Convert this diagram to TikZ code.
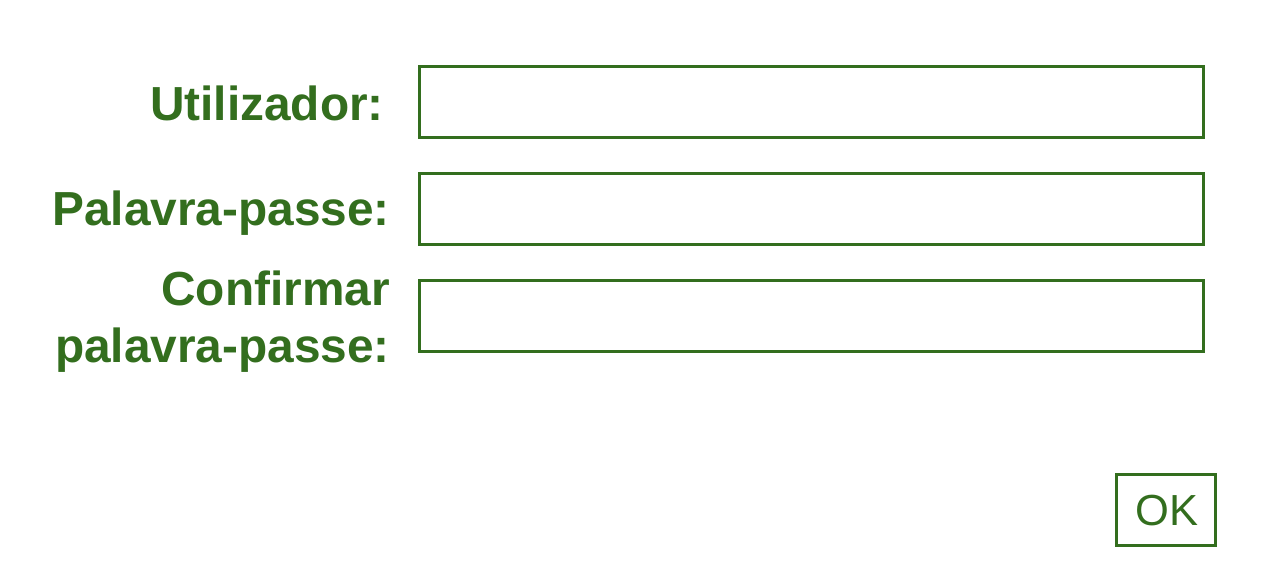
\documentclass[tikz,border=0pt]{standalone}
\usepackage{fontspec}
\setmainfont{Liberation Sans}
\usepackage{tikz}
\definecolor{formgreen}{RGB}{51,110,30}
\tikzset{
  field/.style={draw=formgreen, line width=3pt},
  lbl/.style={anchor=base east, inner sep=0pt, text=formgreen, font=\fontsize{47.8}{57}\selectfont\bfseries},
}

\begin{document}
\begin{tikzpicture}[x=1pt, y=-1pt]
			%%%%% START %%%%%
			\useasboundingbox (0, 0) rectangle (1262, 582);
			
			\node[lbl] (user) at (384, 120) {Utilizador:};
			\draw[field] (419.5, 66.5) rectangle (1203.5, 137.5);
			
			\node[lbl] (pass) at (390, 225) {Palavra-passe:};
			\draw[field] (419.5, 173.5) rectangle (1203.5, 244.5);
			
			\node[lbl] (conf) at (390, 305) {Confirmar};
			\node[lbl] (confpass) at (390, 362) {palavra-passe:};
			\draw[field] (419.5, 280.5) rectangle (1203.5, 351.5);
			
			\draw[field] (1116.5, 474.5) rectangle (1215.5, 545.5);
			\node[text=formgreen, inner sep=0pt, font=\fontsize{43.5}{50}\selectfont] (ok) at (1167, 511) {OK};
			
			%%%%% END %%%%%
\end{tikzpicture}
\end{document}
